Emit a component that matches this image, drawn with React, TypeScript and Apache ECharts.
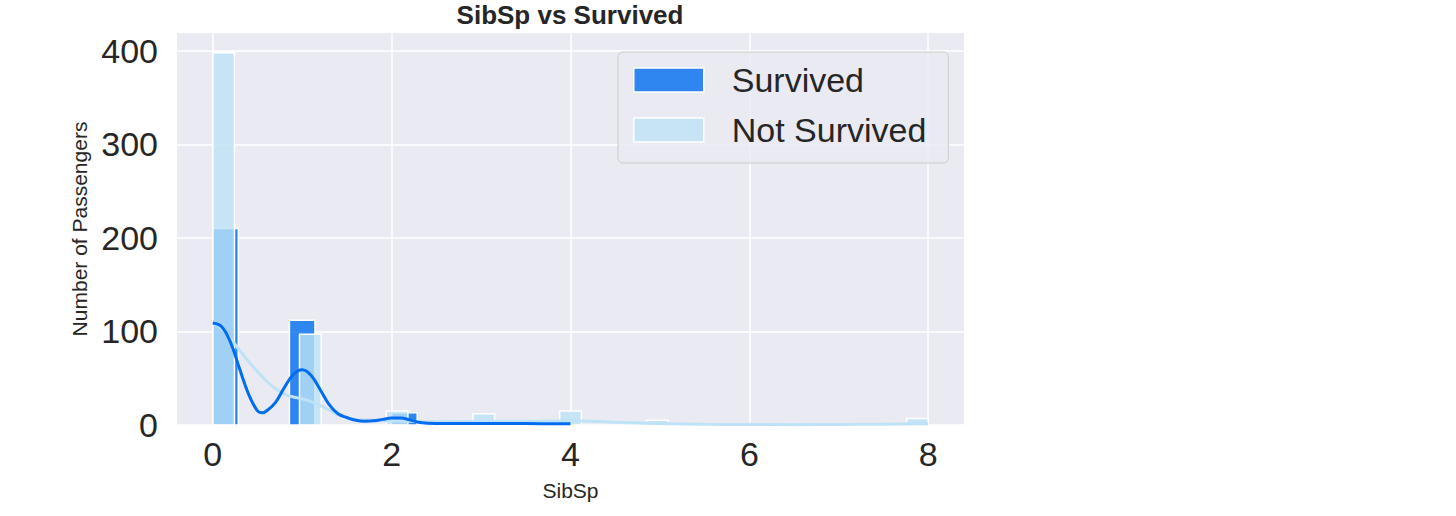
import React, { useEffect, useRef } from "react";
import * as echarts from "echarts";

// Histogram bins: [left edge, right edge, count]
const survivedBins: number[][] = [
  [0, 0.2857, 210],
  [0.8571, 1.1429, 112],
  [2.0, 2.2857, 13],
  [2.8571, 3.1429, 4],
  [3.7143, 4.0, 3],
];
const notSurvivedBins: number[][] = [
  [0, 0.2424, 398],
  [0.9697, 1.2121, 97],
  [1.9394, 2.1818, 15],
  [2.9091, 3.1515, 12],
  [3.8788, 4.1212, 15],
  [4.8485, 5.0909, 5],
  [7.7576, 8.0, 7],
];

// KDE curves
const survivedKdeX = [0, 0.1, 0.2, 0.3, 0.4, 0.5, 0.55, 0.6, 0.7, 0.8, 0.9, 1.0, 1.1, 1.2, 1.3, 1.4, 1.5, 1.6, 1.7, 1.8, 1.9, 2.0, 2.1, 2.2, 2.3, 2.4, 2.6, 3.0, 3.5, 4.0];
const survivedKdeY = [109, 105, 88, 60, 33, 15, 13, 15, 24, 40, 54, 59, 53, 38, 22, 12, 8, 5, 4, 4.5, 6, 7.5, 7.5, 5.5, 3, 2, 1.6, 1.6, 1.5, 1.3];
const notSurvivedKdeX = [0, 0.1, 0.2, 0.3, 0.4, 0.5, 0.6, 0.7, 0.8, 0.9, 1.0, 1.1, 1.2, 1.3, 1.4, 1.5, 1.6, 1.8, 2.0, 2.5, 3.0, 3.5, 4.0, 4.5, 5.0, 5.5, 6.0, 6.5, 7.0, 7.5, 8.0];
const notSurvivedKdeY = [109, 103, 92, 80, 68, 57, 47, 39, 33, 30, 28, 25, 21, 16, 11, 8, 6, 5, 4.5, 3.5, 4, 4, 4.5, 3, 1.5, 0.8, 0.5, 0.4, 0.5, 0.9, 1.3];

const xTicks = [0, 2, 4, 6, 8];
const yTicks = [0, 100, 200, 300, 400];

const FONT = "'Liberation Sans', Arial, Helvetica, sans-serif";
const TEXT = "#262626";
const SURV_FILL = "rgba(0,109,240,0.8)";
const SURV_LINE = "#006df0";
const NOT_FILL = "rgba(190,226,246,0.8)";
const NOT_LINE = "#bee2f6";

function histSeries(name: string, bins: number[][], fill: string, z: number) {
  return {
    name,
    type: "custom",
    z,
    data: bins,
    encode: { x: [0, 1], y: 2 },
    renderItem: (_params: any, api: any) => {
      const x0 = api.value(0);
      const x1 = api.value(1);
      const h = api.value(2);
      const p0 = api.coord([x0, h]);
      const p1 = api.coord([x1, 0]);
      return {
        type: "rect",
        shape: { x: p0[0], y: p0[1], width: p1[0] - p0[0], height: p1[1] - p0[1] },
        style: { fill, stroke: "#ffffff", lineWidth: 1.5 },
      };
    },
    itemStyle: { color: fill },
  };
}

export default function App() {
  const ref = useRef<HTMLDivElement>(null);
  useEffect(() => {
    if (!ref.current) return;
    const chart = echarts.init(ref.current, undefined, { renderer: "svg" });
    chart.setOption({
      animation: false,
      backgroundColor: "#ffffff",
      title: {
        text: "SibSp vs Survived",
        left: 570,
        top: 2,
        textAlign: "center",
        padding: 0,
        textStyle: { fontFamily: FONT, fontSize: 26, fontWeight: "bold", color: TEXT },
      },
      legend: {
        orient: "vertical",
        left: 618,
        top: 52,
        padding: [11, 22, 16, 15],
        itemWidth: 70,
        itemHeight: 24,
        itemGap: 16,
        backgroundColor: "rgba(234,234,242,0.8)",
        borderColor: "#cccccc",
        borderWidth: 1,
        borderRadius: 5,
        textStyle: { fontFamily: FONT, fontSize: 34, color: TEXT, padding: [0, 0, 0, 23] },
        data: [
          { name: "Survived", icon: "rect", itemStyle: { color: SURV_FILL, borderColor: "#ffffff", borderWidth: 1.5 } },
          { name: "Not Survived", icon: "rect", itemStyle: { color: NOT_FILL, borderColor: "#ffffff", borderWidth: 1.5 } },
        ],
      },
      grid: {
        left: 177,
        top: 33,
        width: 787,
        height: 392,
        show: true,
        backgroundColor: "#eaeaf2",
        borderWidth: 0,
        containLabel: false,
      },
      xAxis: {
        type: "value",
        min: -0.4,
        max: 8.4,
        name: "SibSp",
        nameLocation: "middle",
        nameGap: 55,
        nameTextStyle: { fontFamily: FONT, fontSize: 21, color: TEXT },
        axisLine: { show: false },
        axisTick: { show: false, customValues: xTicks },
        axisLabel: { customValues: xTicks, fontFamily: FONT, fontSize: 34, color: TEXT, margin: 12 },
        splitLine: { show: true, lineStyle: { color: "#ffffff", width: 1.5 } },
      },
      yAxis: {
        type: "value",
        min: 0,
        max: 419,
        name: "Number of Passengers",
        nameLocation: "middle",
        nameGap: 84,
        nameTextStyle: { fontFamily: FONT, fontSize: 21, color: TEXT },
        axisLine: { show: false },
        axisTick: { show: false, customValues: yTicks },
        axisLabel: { customValues: yTicks, fontFamily: FONT, fontSize: 34, color: TEXT, margin: 19 },
        splitLine: { show: true, lineStyle: { color: "#ffffff", width: 1.5 } },
      },
      series: [
        histSeries("Survived", survivedBins, SURV_FILL, 2),
        histSeries("Not Survived", notSurvivedBins, NOT_FILL, 3),
        {
          name: "Survived KDE",
          type: "line",
          z: 5,
          data: survivedKdeX.map((x, i) => [x, survivedKdeY[i]]),
          smooth: 0.4,
          showSymbol: false,
          lineStyle: { color: SURV_LINE, width: 3 },
          itemStyle: { color: SURV_LINE },
        },
        {
          name: "Not Survived KDE",
          type: "line",
          z: 4,
          data: notSurvivedKdeX.map((x, i) => [x, notSurvivedKdeY[i]]),
          smooth: 0.4,
          showSymbol: false,
          lineStyle: { color: NOT_LINE, width: 3 },
          itemStyle: { color: NOT_LINE },
        },
      ],
    });
    return () => chart.dispose();
  }, []);
  return (
    <div
      ref={ref}
      style={{ position: "absolute", left: 0, top: 0, width: 1456, height: 516 }}
    />
  );
}
